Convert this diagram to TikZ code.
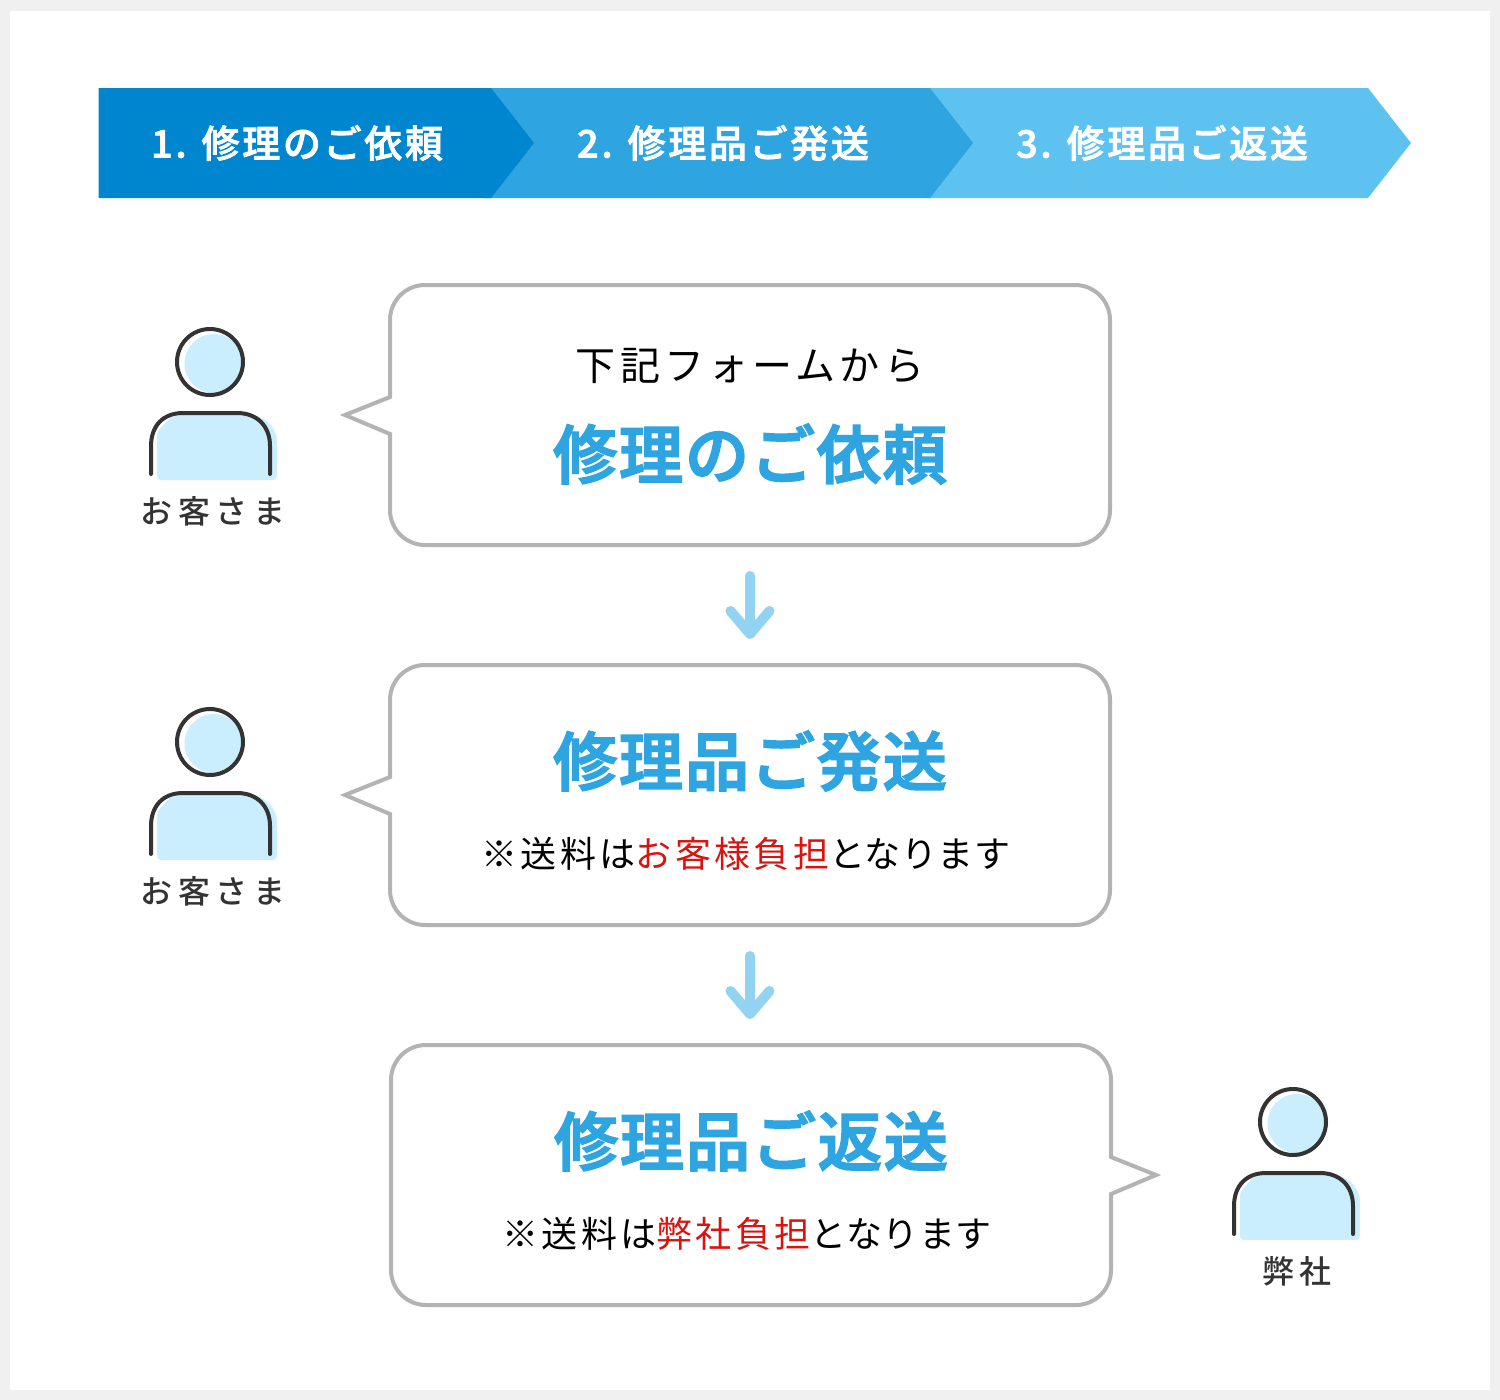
\documentclass[tikz,border=0pt]{standalone}
\usepackage{fontspec}
\setmainfont{Noto Sans CJK JP}
\newfontfamily\jpw[LetterSpace=17]{Noto Sans CJK JP Medium}
\newfontfamily\jpb[LetterSpace=7,FakeBold=2]{Noto Sans CJK JP Medium}
\newfontfamily\jpc[LetterSpace=9.5]{Noto Sans CJK JP}
\newfontfamily\jpk[LetterSpace=1.5]{Noto Sans CJK JP}
\newfontfamily\jpt[LetterSpace=10.5]{Noto Sans CJK JP}
\newfontfamily\jph[LetterSpace=3,FakeBold=3]{Noto Sans CJK JP Medium}
\newcommand{\kanatail}{{\jpk となります}}
\definecolor{dk}{HTML}{0086CF}
\definecolor{md}{HTML}{2EA4E0}
\definecolor{lt}{HTML}{5DC2F0}
\definecolor{pale}{HTML}{CBEEFF}
\definecolor{ink}{HTML}{333333}
\definecolor{edgeg}{HTML}{B3B3B3}
\definecolor{arr}{HTML}{93D3F2}
\definecolor{redt}{HTML}{D7140F}
\definecolor{bordg}{HTML}{F0F0F0}
\tikzset{
  x=1pt,y=-1pt,
  steplabel/.style={inner sep=0pt,text=white,font=\fontsize{38}{42}\selectfont\jpb},
  bubble/.style={draw=edgeg,line width=4pt,fill=white,line join=miter},
  headline/.style={inner sep=0pt,text=md,font=\fontsize{64}{70}\selectfont\jph},
  bodyline/.style={inner sep=0pt,text=black,font=\fontsize{36}{42}\selectfont\jpc},
  topline/.style={inner sep=0pt,text=black,font=\fontsize{40}{44}\selectfont\jpt},
  whoname/.style={inner sep=0pt,text=ink,font=\fontsize{32}{36}\selectfont\jpw},
  flowarrow/.style={draw=arr,line width=10pt,line cap=round,line join=round},
  person/.pic={
    \fill[pale] (4,1.5) circle (29.5);
    \fill[pale,rounded corners=4pt] (-53,118) -- (-53,70)
       [sharp corners] -- (-40,56) -- (-27,52) -- (38,52)
       .. controls (56,54) and (67,66) .. (67,80) [rounded corners=4pt] -- (67,118) -- cycle;
    \draw[ink,line width=4pt] (0,0) circle (33);
    \draw[ink,line width=4pt,line cap=round] (-59,112) -- (-59,84)
       .. controls (-59,64) and (-47,51) .. (-27,51) -- (27,51)
       .. controls (47,51) and (60,64) .. (60,84) -- (60,112);
  }
}
\begin{document}
\begin{tikzpicture}
\useasboundingbox (0,0) rectangle (1500,1400);
\fill[bordg] (0,0) rectangle (1500,1400);
\fill[white] (10,11) rectangle (1490,1390);
% chevrons
\fill[lt] (925,88) -- (1368,88) -- (1411,143) -- (1368,198) -- (925,198) -- cycle;
\fill[md] (485,88) -- (930,88) -- (973,143) -- (930,198) -- (485,198) -- cycle;
\fill[dk] (98.5,88) -- (491,88) -- (534,143) -- (491,198) -- (98.5,198) -- cycle;
\node[steplabel] (s1) at (297,143) {1. 修理のご依頼};
\node[steplabel] (s2) at (723,143) {2. 修理品ご発送};
\node[steplabel] (s3) at (1162,143) {3. 修理品ご返送};
% bubbles
\draw[bubble] (345,415) -- (390,397) [rounded corners=35pt] -- (390,285) -- (1110,285) -- (1110,545) -- (390,545) [sharp corners] -- (390,434) -- cycle;
\draw[bubble] (345,795) -- (390,777) [rounded corners=35pt] -- (390,665) -- (1110,665) -- (1110,925) -- (390,925) [sharp corners] -- (390,814) -- cycle;
\draw[bubble] (1156,1175) -- (1111,1194) [rounded corners=35pt] -- (1111,1305) -- (391,1305) -- (391,1045) -- (1111,1045) [sharp corners] -- (1111,1157) -- cycle;
% bubble texts
\node[topline] (t1a) at (750,366) {下記フォームから};
\node[headline] (t1b) at (750,454) {修理のご依頼};
\node[headline] (t2a) at (750,761) {修理品ご発送};
\node[bodyline] (t2b) at (746,854) {※送料は\textcolor{redt}{お客様負担}\kanatail};
\node[headline] (t3a) at (751,1141) {修理品ご返送};
\node[bodyline] (t3b) at (747,1234) {※送料は\textcolor{redt}{弊社負担}\kanatail};
% arrows
\coordinate (a1s) at (750,576);
\coordinate (a1e) at (750,634);
\coordinate (a1l) at (730.5,611);
\coordinate (a1r) at (769.5,611);
\draw[flowarrow] (a1s) -- (a1e) (a1l) -- (a1e) -- (a1r);
\coordinate (a2s) at (750,956);
\coordinate (a2e) at (750,1014);
\coordinate (a2l) at (730.5,991);
\coordinate (a2r) at (769.5,991);
\draw[flowarrow] (a2s) -- (a2e) (a2l) -- (a2e) -- (a2r);
% persons
\pic at (210,362) {person};
\pic at (210,742) {person};
\pic at (1293,1122) {person};
\node[whoname] (w1) at (213,511) {お客さま};
\node[whoname] (w2) at (213,891) {お客さま};
\node[whoname] (w3) at (1297,1271) {弊社};
\end{tikzpicture}
\end{document}
